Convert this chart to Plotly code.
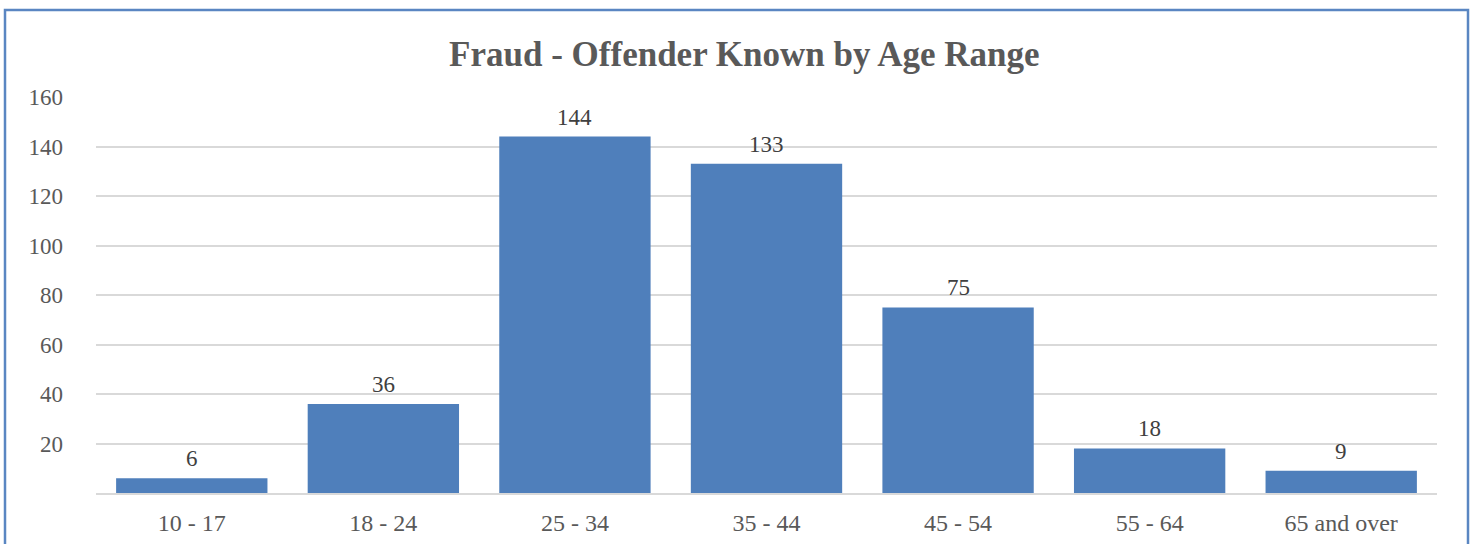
import plotly.graph_objects as go

categories = ["10 - 17", "18 - 24", "25 - 34", "35 - 44", "45 - 54", "55 - 64", "65 and over"]
values = [6, 36, 144, 133, 75, 18, 9]
y_ticks = [20, 40, 60, 80, 100, 120, 140, 160]

W, H = 1474, 544
ml, mr, mt, mb = 96, 37, 97, 51
pw, ph = W - ml - mr, H - mt - mb

def px_x(x):
    return (x - ml) / pw

def px_y(y):
    return (H - mb - y) / ph

font_family = "Liberation Serif, Times New Roman, serif"

fig = go.Figure(go.Bar(
    x=categories, y=values,
    marker=dict(color="#4F7FBB", line=dict(width=0)),
    cliponaxis=False, width=0.79,
))

for c, v in zip(categories, values):
    fig.add_annotation(x=c, y=v, text=str(v), showarrow=False,
                       yanchor="bottom", yshift=5,
                       font=dict(family=font_family, size=23, color="#404040"))

fig.update_layout(
    width=W, height=H,
    margin=dict(l=ml, r=mr, t=mt, b=mb),
    paper_bgcolor="white", plot_bgcolor="white",
    showlegend=False,
    title=dict(text="<b>Fraud - Offender Known by Age Range</b>",
               font=dict(family=font_family, size=35, color="#595959"),
               x=0.505, xanchor="center", xref="container",
               y=1 - 54 / H, yanchor="middle", yref="container"),
    shapes=[dict(type="rect", xref="paper", yref="paper",
                 x0=px_x(5), x1=px_x(1468), y0=px_y(580), y1=px_y(10),
                 line=dict(color="#5A86C2", width=2.5), fillcolor="rgba(0,0,0,0)",
                 layer="below")],
)
fig.update_xaxes(showgrid=False, showline=True, linecolor="#D9D9D9", linewidth=1.5,
                 ticks="", tickfont=dict(family=font_family, size=24, color="#595959"),
                 ticklabelstandoff=7, automargin=False)
fig.update_yaxes(range=[0, 160], tickvals=y_ticks, showgrid=True, gridcolor="#D9D9D9",
                 gridwidth=1.5, zeroline=False, showline=False, ticks="",
                 tickfont=dict(family=font_family, size=23, color="#595959"),
                 ticklabelstandoff=32, automargin=False)

fig.write_html("out.html", config={"displayModeBar": False},
               post_script="document.body.style.margin='0';document.body.style.overflow='hidden';")
